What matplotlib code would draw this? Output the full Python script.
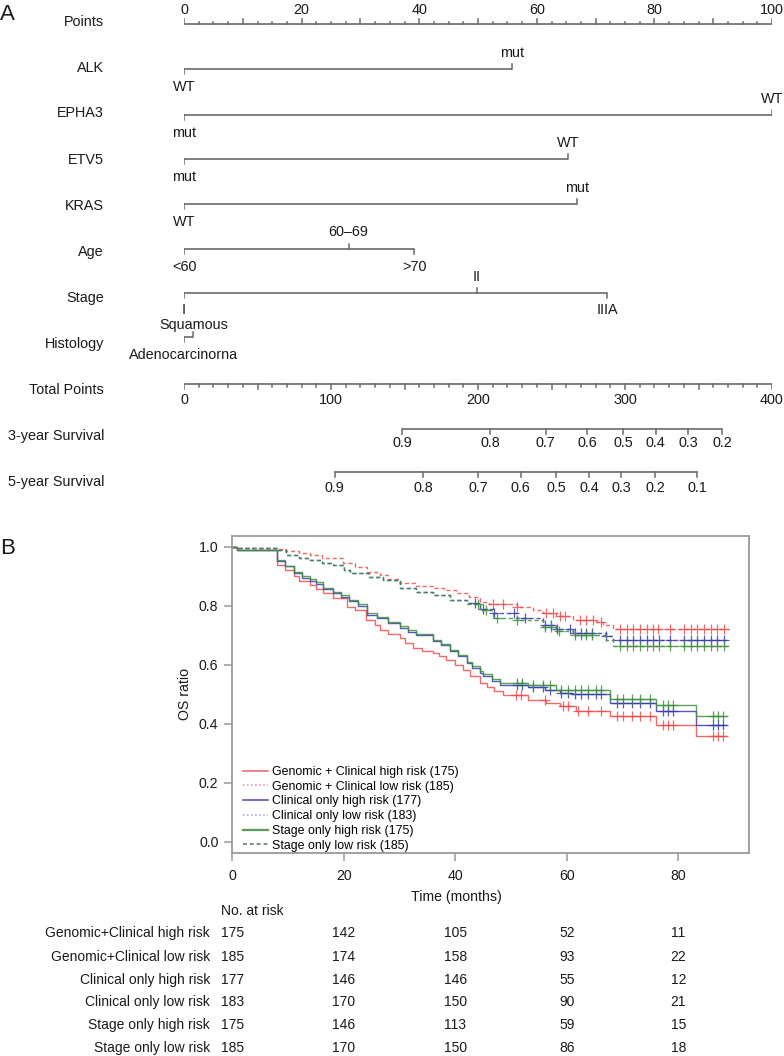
import numpy as np
import matplotlib
matplotlib.use('Agg')
import matplotlib.pyplot as plt
from matplotlib.lines import Line2D
from matplotlib.transforms import blended_transform_factory

plt.rcParams['font.family'] = ['Liberation Sans', 'DejaVu Sans']

# ---------------- nomogram data (panel A) ----------------
var_names = ['ALK', 'EPHA3', 'ETV5', 'KRAS', 'Age', 'Stage', 'Histology']
alk_levels = ['WT', 'mut']
alk_points = [0, 55.8]
epha3_levels = ['mut', 'WT']
epha3_points = [0, 100]
etv5_levels = ['mut', 'WT']
etv5_points = [0, 65.3]
kras_levels = ['WT', 'mut']
kras_points = [0, 66.8]
age_levels = ['<60', '60–69', '>70']
age_points = [0, 28.0, 39.2]
stage_levels = ['I', 'II', 'IIIA']
stage_points = [0, 49.8, 72.0]
hist_levels = ['Adenocarcinorna', 'Squamous']
hist_points = [0, 1.6]

surv3_probs = [0.9, 0.8, 0.7, 0.6, 0.5, 0.4, 0.3, 0.2]
surv3_total = [148.3, 208.4, 246.1, 274.4, 298.9, 320.9, 343.1, 366.2]
surv5_probs = [0.9, 0.8, 0.7, 0.6, 0.5, 0.4, 0.3, 0.2, 0.1]
surv5_total = [102.5, 162.8, 200.2, 229.0, 253.3, 275.5, 297.5, 320.6, 349.2]

# ---------------- KM data (panel B) ----------------
gc_high_t = [0, 0.8, 8, 9.5, 11, 12, 14, 15, 16.3, 18, 20.5, 22, 24, 25.5, 26.5, 28, 30, 31, 32.4,
             34, 36, 37, 38.4, 40, 41.4, 42.6, 44.4, 45.6, 47, 48.5, 53, 56.3, 58.7, 61.7, 67.7,
             76, 83.2, 88.6]
gc_high_s = [1.0, 0.989, 0.938, 0.92, 0.90, 0.882, 0.87, 0.855, 0.842, 0.825, 0.797, 0.785, 0.752,
             0.735, 0.718, 0.705, 0.69, 0.672, 0.656, 0.645, 0.639, 0.628, 0.617, 0.60, 0.583, 0.56,
             0.538, 0.526, 0.51, 0.496, 0.482, 0.47, 0.459, 0.442, 0.425, 0.397, 0.357, 0.357]
gc_high_cens = [50.9, 51.8, 56.0, 59.3, 60.2, 62.0, 63.8, 66.2, 68.9, 70.1, 71.6, 73.1, 74.9,
                77.2, 78.1, 79.0, 86.2, 87.1, 88.0]

cl_high_t = [0, 0.8, 8, 9.5, 11, 12.5, 14, 15, 16.3, 18, 19.5, 21, 22.5, 24.1, 26, 28, 30, 31.5,
             33, 36, 37.5, 39, 40.5, 42, 43, 44.4, 45, 46.5, 48, 53, 56, 58.7, 61, 67.7, 76, 83.2, 88.6]
cl_high_s = [1.0, 0.99, 0.95, 0.935, 0.91, 0.895, 0.885, 0.875, 0.855, 0.842, 0.83, 0.815, 0.80,
             0.77, 0.758, 0.74, 0.724, 0.712, 0.70, 0.679, 0.665, 0.645, 0.628, 0.605, 0.59, 0.572,
             0.56, 0.545, 0.532, 0.525, 0.515, 0.504, 0.50, 0.47, 0.442, 0.397, 0.397]
cl_high_cens = [51.0, 51.9, 53.9, 55.7, 56.9, 59.0, 60.2, 61.4, 62.6, 63.8, 65.3, 66.2, 68.9,
                70.1, 71.6, 73.1, 74.9, 77.2, 78.1, 79.0, 86.2, 87.1, 88.0]

st_high_t = [0, 0.8, 8, 9.5, 11, 12.5, 14, 15, 16.3, 18, 19.5, 21, 22.5, 24.1, 26, 28, 30, 31.5,
             33, 36, 37.5, 39, 40.5, 42, 43, 44.4, 45, 46.5, 48, 53, 58, 67.7, 76, 83.2, 88.6]
st_high_s = [1.0, 0.99, 0.955, 0.935, 0.915, 0.90, 0.89, 0.88, 0.86, 0.845, 0.835, 0.82, 0.805,
             0.775, 0.76, 0.745, 0.73, 0.718, 0.705, 0.685, 0.67, 0.65, 0.633, 0.61, 0.595, 0.58,
             0.567, 0.55, 0.538, 0.53, 0.515, 0.484, 0.464, 0.425, 0.425]
st_high_cens = [51.0, 51.9, 53.9, 55.7, 56.9, 59.0, 60.2, 61.4, 62.6, 63.8, 65.3, 66.2, 68.9,
                70.1, 71.6, 73.1, 74.9, 77.2, 78.1, 79.0, 86.2, 87.1, 88.0]

gc_low_t = [0, 1, 8, 9.7, 12, 13.9, 16, 19.9, 22, 24.1, 26.5, 28, 30, 33, 36, 38, 40.2, 42.5,
            44.4, 46, 51, 54, 55.7, 58, 61.1, 65.3, 66.5, 68.3, 89]
gc_low_s = [1.0, 0.995, 0.992, 0.986, 0.978, 0.972, 0.96, 0.944, 0.93, 0.915, 0.904, 0.89, 0.876,
            0.865, 0.859, 0.853, 0.842, 0.83, 0.814, 0.805, 0.797, 0.785, 0.775, 0.765, 0.752,
            0.745, 0.735, 0.72, 0.72]
gc_low_cens = [46.8, 48.6, 51.0, 56.3, 57.5, 58.7, 59.6, 62.3, 63.5, 64.7, 66.2, 69.5, 70.7,
               71.9, 73.1, 74.3, 75.5, 76.3, 78.5, 81.0, 82.2, 83.4, 84.6, 85.8, 87.0, 88.2]

cl_low_t = [0, 1, 8, 9.7, 12, 14, 16, 18, 20, 21.1, 24.6, 27, 30, 33, 36, 39, 42, 44.4, 46.8,
            51, 55.7, 58, 61.1, 67, 68.3, 89]
cl_low_s = [1.0, 0.995, 0.99, 0.972, 0.962, 0.955, 0.945, 0.938, 0.92, 0.91, 0.898, 0.887, 0.859,
            0.845, 0.837, 0.82, 0.809, 0.79, 0.775, 0.758, 0.735, 0.72, 0.707, 0.696, 0.684, 0.684]
cl_low_cens = [43.5, 45.0, 47.0, 50.5, 52.5, 56.0, 57.2, 58.2, 60.5, 61.5, 62.5, 63.5, 64.5, 67.0,
               69.5, 70.7, 71.9, 73.1, 74.3, 75.5, 76.5, 78.5, 81.0, 82.2, 83.4, 84.6, 85.8, 87.0, 88.2]

st_low_t = [0, 1, 8, 9.7, 12, 14, 16, 18, 20, 21.1, 24.6, 27, 30, 33, 36, 39, 42, 44.4, 46.8,
            51, 55.7, 58, 61.1, 67, 68.3, 89]
st_low_s = [1.0, 0.995, 0.99, 0.972, 0.962, 0.955, 0.945, 0.938, 0.92, 0.91, 0.898, 0.887, 0.859,
            0.845, 0.837, 0.818, 0.805, 0.785, 0.758, 0.75, 0.729, 0.715, 0.701, 0.685, 0.662, 0.662]
st_low_cens = [44.0, 45.5, 47.5, 51.0, 56.0, 57.2, 58.5, 61.5, 62.5, 63.5, 64.5, 69.5, 70.7, 71.9,
               73.1, 74.3, 75.5, 76.5, 78.5, 81.0, 82.2, 83.4, 84.6, 85.8, 87.0, 88.2]

group_labels = ['Genomic + Clinical high risk (175)', 'Genomic + Clinical low risk (185)',
                'Clinical only high risk (177)', 'Clinical only low risk (183)',
                'Stage only high risk (175)', 'Stage only low risk (185)']

risk_rows = ['Genomic+Clinical high risk', 'Genomic+Clinical low risk', 'Clinical only high risk',
             'Clinical only low risk', 'Stage only high risk', 'Stage only low risk']
risk_times = [0, 20, 40, 60, 80]
risk_gc_high = [175, 142, 105, 52, 11]
risk_gc_low = [185, 174, 158, 93, 22]
risk_cl_high = [177, 146, 146, 55, 12]
risk_cl_low = [183, 170, 150, 90, 21]
risk_st_high = [175, 146, 113, 59, 15]
risk_st_low = [185, 170, 150, 86, 18]

# ---------------- figure ----------------
W, H = 784, 1056
fig = plt.figure(figsize=(W / 100, H / 100), dpi=100)
LC = '#6a6a6a'
TC = '#1a1a1a'
FS = 10.4     # nomogram text
FSB = 10.2    # KM tick labels
FSL = 8.9     # legend
FSR = 10.0    # risk table


def fx(px):
    return px / W


def fy(py):
    return 1 - py / H


# panel A axes: y in pixel rows
box_a = [fx(184), fy(500), (772 - 184) / W, 500 / H]
ax_pts = fig.add_axes(box_a)
ax_pts.set_xlim(0, 100)
ax_pts.set_ylim(500, 0)
ax_pts.axis('off')
ax_tot = fig.add_axes(box_a)
ax_tot.set_xlim(0, 400)
ax_tot.set_ylim(500, 0)
ax_tot.axis('off')
ax_tot.patch.set_alpha(0)

name_tr = blended_transform_factory(fig.transFigure, ax_pts.transData)
line_y = [24, 69, 115, 159, 204, 249, 293, 337, 384, 429, 472]
name_y = [22, 68, 113, 160, 206, 252, 298, 344, 390, 436, 482]
row_names = ['Points'] + var_names + ['Total Points', '3-year Survival', '5-year Survival']
for nm, yy in zip(row_names, name_y):
    ax_pts.text(fx(104), yy, nm, transform=name_tr, ha='right', va='center', fontsize=FS, color=TC)

fig.text(0.0, fy(15), 'A', fontsize=16, ha='left', va='center', color=TC)
fig.text(0.0, fy(548), 'B', fontsize=16, ha='left', va='center', color=TC)

# Points axis (ticks up, labels above)
y0 = line_y[0]
ax_pts.plot([0, 100], [y0, y0], color=LC, lw=1.2, solid_capstyle='butt')
for v in np.arange(0, 100.01, 2.5):
    ln = 5 if v % 10 == 0 else 2.5
    ax_pts.plot([v, v], [y0, y0 - ln], color=LC, lw=1.1)
for v in range(0, 101, 20):
    ax_pts.text(v, y0 - 14.5, str(v), ha='center', va='center', fontsize=FS, color=TC)

# variables
var_levels = [alk_levels, epha3_levels, etv5_levels, kras_levels, age_levels, stage_levels, hist_levels]
var_points = [alk_points, epha3_points, etv5_points, kras_points, age_points, stage_points, hist_points]
above_off = [16, 16, 16, 16, 16.5, 16, 11.5]
below_off = [18, 18, 18, 18, 18, 16.5, 18]
for i, (lev, pts) in enumerate(zip(var_levels, var_points)):
    yy = line_y[i + 1]
    ax_pts.plot([min(pts), max(pts)], [yy, yy], color=LC, lw=1.2, solid_capstyle='butt')
    order = np.argsort(pts)
    for k, j in enumerate(order):
        p = pts[j]
        if k % 2 == 0:
            ax_pts.plot([p, p], [yy, yy + 5], color=LC, lw=1.1)
            ax_pts.text(p, yy + below_off[i], lev[j], ha='center', va='center', fontsize=FS, color=TC)
        else:
            ax_pts.plot([p, p], [yy, yy - 5], color=LC, lw=1.1)
            ax_pts.text(p, yy - above_off[i], lev[j], ha='center', va='center', fontsize=FS, color=TC)

# Total points axis (ticks down, labels below)
yt = line_y[8]
ax_tot.plot([0, 400], [yt, yt], color=LC, lw=1.2, solid_capstyle='butt')
for v in range(0, 401, 10):
    ln = 5 if v % 50 == 0 else 2.5
    ax_tot.plot([v, v], [yt, yt + ln], color=LC, lw=1.1)
for v in range(0, 401, 100):
    ax_tot.text(v, yt + 16, str(v), ha='center', va='center', fontsize=FS, color=TC)

# survival axes
for yy, probs, tots, off in [(line_y[9], surv3_probs, surv3_total, 14),
                             (line_y[10], surv5_probs, surv5_total, 16)]:
    ax_tot.plot([min(tots), max(tots)], [yy, yy], color=LC, lw=1.2, solid_capstyle='butt')
    for pr, tp in zip(probs, tots):
        ax_tot.plot([tp, tp], [yy, yy + 5], color=LC, lw=1.1)
        ax_tot.text(tp, yy + off, f'{pr:.1f}', ha='center', va='center', fontsize=FS, color=TC)

# ---------------- panel B ----------------
ax = fig.add_axes([fx(232.3), fy(852.7), (748.7 - 232.3) / W, (852.7 - 535.7) / H])
ax.set_xlim(0, 92.6)
ax.set_ylim(-0.037, 1.037)
for sp in ax.spines.values():
    sp.set_color('#9a9a9a')
    sp.set_linewidth(1.3)
ax.set_xticks(risk_times)
ax.set_yticks([0, 0.2, 0.4, 0.6, 0.8, 1.0])
ax.set_yticklabels(['0.0', '0.2', '0.4', '0.6', '0.8', '1.0'])
ax.tick_params(color='#9a9a9a', length=6, width=1.1, labelsize=FSB, labelcolor=TC)
ax.tick_params(axis='y', pad=4)
ax.tick_params(axis='x', pad=6)

RED = '#ee4d4d'
BLUE = '#3b3bb0'
GREEN = '#3f8f3f'
curves = [
    (gc_high_t, gc_high_s, gc_high_cens, RED, '-'),
    (gc_low_t, gc_low_s, gc_low_cens, RED, '--'),
    (cl_high_t, cl_high_s, cl_high_cens, BLUE, '-'),
    (cl_low_t, cl_low_s, cl_low_cens, BLUE, '--'),
    (st_high_t, st_high_s, st_high_cens, GREEN, '-'),
    (st_low_t, st_low_s, st_low_cens, GREEN, '--'),
]
for t, s, cens, col, ls in curves:
    kw = dict(dashes=(3, 2)) if ls == '--' else {}
    ax.step(t, s, where='post', color=col, lw=1.0, alpha=0.85, **kw)
    cs = np.array(s)[np.searchsorted(t, cens, side='right') - 1]
    ax.plot(cens, cs, linestyle='none', marker='+', markersize=7.5, markeredgewidth=0.9,
            color=col, alpha=0.85)

handles = [
    Line2D([], [], color='#f06060', lw=1.1),
    Line2D([], [], color='#f07fa0', lw=1.1, linestyle=':'),
    Line2D([], [], color='#4a4ab5', lw=1.1),
    Line2D([], [], color='#9a9ae0', lw=1.1, linestyle=':'),
    Line2D([], [], color='#5a9a5a', lw=1.6),
    Line2D([], [], color='#3f7a5a', lw=1.1, dashes=(2.5, 2)),
]
ax.legend(handles, group_labels, loc='lower left', bbox_to_anchor=(0.008, -0.018), frameon=False,
          fontsize=FSL, handlelength=2.0, handletextpad=0.35, labelspacing=0.22, borderaxespad=0.15)

ax.text(-0.092, 0.5, 'OS ratio', transform=ax.transAxes, rotation=90, ha='center', va='center',
        fontsize=FSB, color=TC)
ax.text((456 - 232.3) / 516.4, (852.7 - 897) / 317, 'Time (months)', transform=ax.transAxes,
        ha='center', va='center', fontsize=FSB, color=TC)

# risk table
rtr = blended_transform_factory(ax.transData, fig.transFigure)
ax.text(-2.0, fy(911), 'No. at risk', transform=rtr, ha='left', va='center', fontsize=FSR, color=TC)
risk_vals = [risk_gc_high, risk_gc_low, risk_cl_high, risk_cl_low, risk_st_high, risk_st_low]
row_y = [933.3, 956.7, 980, 1002.3, 1025, 1048.3]
for lab, vals, yy in zip(risk_rows, risk_vals, row_y):
    fig.text(fx(210), fy(yy), lab, ha='right', va='center', fontsize=FSR, color=TC)
    for tt, v in zip(risk_times, vals):
        ax.text(tt, fy(yy), str(v), transform=rtr, ha='center', va='center', fontsize=FSR, color=TC)

fig.savefig('out.png', dpi=100)
